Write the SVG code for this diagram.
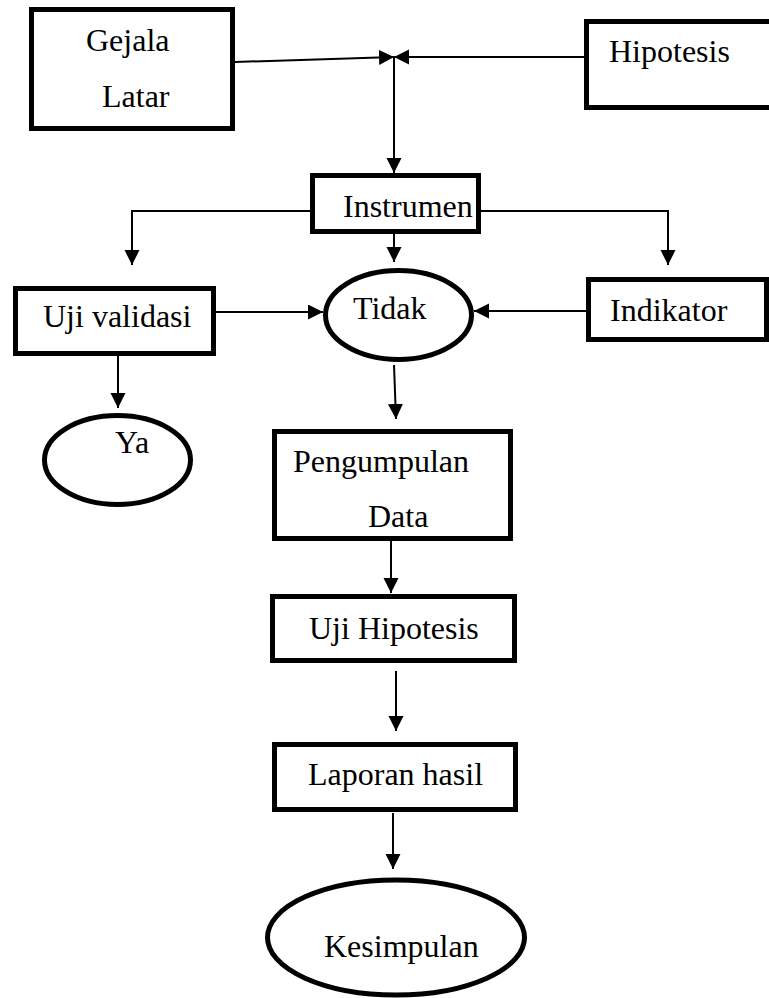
<svg xmlns="http://www.w3.org/2000/svg" width="769" height="998" viewBox="0 0 769 998">
<style>
.box{fill:#fff;stroke:#000;stroke-width:5}
.lbl{font-family:"Liberation Serif","Times New Roman",serif;font-size:32px;fill:#000}
.ln{fill:none;stroke:#000;stroke-width:2}
</style>
<defs>
<marker id="ah" markerUnits="userSpaceOnUse" markerWidth="16" markerHeight="16" refX="15" refY="7.5" orient="auto">
<path d="M0,0 L15,7.5 L0,15 z" fill="#000"/>
</marker>
</defs>
<rect width="769" height="998" fill="#fff"/>
<g id="connectors">
<path class="ln" d="M235,62 L394,57" marker-end="url(#ah)"/>
<path class="ln" d="M584,57 L394,57" marker-end="url(#ah)"/>
<path class="ln" d="M394,57 L394,173" marker-end="url(#ah)"/>
<path class="ln" d="M310,211 L132,211 L132,265" marker-end="url(#ah)"/>
<path class="ln" d="M394,228 L394,262" marker-end="url(#ah)"/>
<path class="ln" d="M481,211 L668,211 L668,265" marker-end="url(#ah)"/>
<path class="ln" d="M216,312 L323,312" marker-end="url(#ah)"/>
<path class="ln" d="M586,311 L474,311" marker-end="url(#ah)"/>
<path class="ln" d="M118,356 L118,408" marker-end="url(#ah)"/>
<path class="ln" d="M394,365 L396,419" marker-end="url(#ah)"/>
<path class="ln" d="M391,541 L391,593" marker-end="url(#ah)"/>
<path class="ln" d="M396,671 L396,731" marker-end="url(#ah)"/>
<path class="ln" d="M393,813 L393,869" marker-end="url(#ah)"/>
</g>
<g id="gejala"><rect class="box" x="31.5" y="9.5" width="201" height="119"/><text class="lbl" x="86" y="51">Gejala</text><text class="lbl" x="102" y="107">Latar</text></g>
<g id="hipotesis"><rect class="box" x="586.5" y="21.5" width="200" height="86"/><text class="lbl" x="609" y="62">Hipotesis</text></g>
<g id="instrumen"><rect class="box" x="312.5" y="175.5" width="166" height="56"/><text class="lbl" x="343" y="217">Instrumen</text></g>
<g id="ujivalidasi"><rect class="box" x="15.5" y="288.5" width="198" height="65"/><text class="lbl" x="43" y="327">Uji validasi</text></g>
<g id="tidak"><ellipse class="box" cx="398.5" cy="315" rx="73" ry="44.5"/><text class="lbl" x="353" y="319">Tidak</text></g>
<g id="indikator"><rect class="box" x="588.5" y="279.5" width="178" height="60"/><text class="lbl" x="610" y="321">Indikator</text></g>
<g id="ya"><ellipse class="box" cx="117.5" cy="460" rx="73" ry="44.5"/><text class="lbl" x="115" y="453">Ya</text></g>
<g id="pengumpulan"><rect class="box" x="274.5" y="431.5" width="236" height="107"/><text class="lbl" x="293" y="472">Pengumpulan</text><text class="lbl" x="368" y="527">Data</text></g>
<g id="ujihipotesis"><rect class="box" x="272.5" y="596.5" width="242" height="64"/><text class="lbl" x="309" y="639">Uji Hipotesis</text></g>
<g id="laporan"><rect class="box" x="274.5" y="744.5" width="241" height="65"/><text class="lbl" x="308" y="785">Laporan hasil</text></g>
<g id="kesimpulan"><ellipse class="box" cx="396" cy="937.5" rx="128.5" ry="57.5"/><text class="lbl" x="324" y="957">Kesimpulan</text></g>
</svg>
